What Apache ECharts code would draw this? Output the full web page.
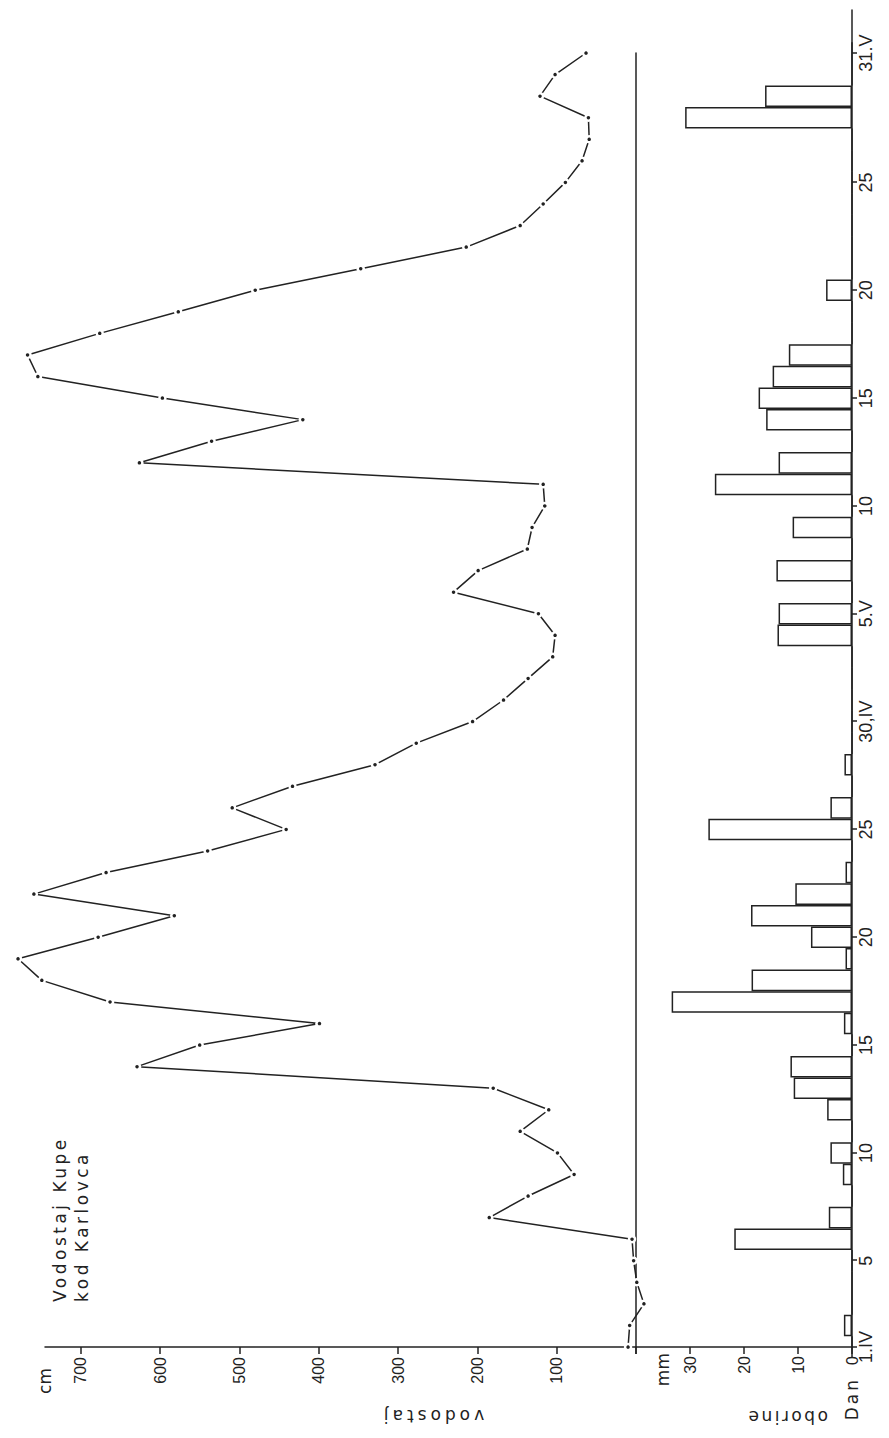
<!DOCTYPE html>
<html>
<head>
<meta charset="utf-8">
<script src="https://cdn.jsdelivr.net/npm/echarts@6/dist/echarts.min.js"></script>
<style>
html,body{margin:0;padding:0;width:889px;height:1438px;overflow:hidden;background:#fff;}
#chart{position:absolute;left:0;top:0;width:1438px;height:889px;transform-origin:0 0;transform:translate(0,1438px) rotate(-90deg);}
</style>
</head>
<body>
<div id="chart"></div>
<script>
// Days (categories)
const days = [
  '1.IV','2.IV','3.IV','4.IV','5.IV','6.IV','7.IV','8.IV','9.IV','10.IV',
  '11.IV','12.IV','13.IV','14.IV','15.IV','16.IV','17.IV','18.IV','19.IV','20.IV',
  '21.IV','22.IV','23.IV','24.IV','25.IV','26.IV','27.IV','28.IV','29.IV','30.IV',
  '1.V','2.V','3.V','4.V','5.V','6.V','7.V','8.V','9.V','10.V',
  '11.V','12.V','13.V','14.V','15.V','16.V','17.V','18.V','19.V','20.V',
  '21.V','22.V','23.V','24.V','25.V','26.V','27.V','28.V','29.V','30.V','31.V'
];
// Water level of the Kupa at Karlovac, cm
const waterLevel = [
  10, 8, -10, -1, 3, 5, 185, 136, 78, 99,
  146, 110, 180, 629, 550, 399, 663, 749, 779, 678,
  582, 759, 668, 540, 441, 509, 433, 329, 277, 206,
  167, 136, 105, 102, 123, 230, 199, 137, 131, 115,
  117, 626, 535, 420, 597, 754, 767, 676, 577, 480,
  347, 214, 146, 117, 89, 68, 59, 60, 121, 102, 63
];
// Precipitation, mm
const precipitation = [
  0, 1.5, 0, 0, 0, 21.8, 4.3, 0, 1.7, 4,
  0, 4.6, 10.8, 11.4, 0, 1.5, 33.4, 18.6, 1.2, 7.6,
  18.7, 10.5, 1.2, 0, 26.6, 4, 0, 1.4, 0, 0,
  0, 0, 0, 13.8, 13.6, 0, 14, 0, 11, 0,
  25.4, 13.6, 0, 15.9, 17.3, 14.7, 11.7, 0, 0, 4.8,
  0, 0, 0, 0, 0, 0, 0, 30.9, 16.1, 0, 0
];
// Tick labels
const dayTickIndex = [0, 4, 9, 14, 19, 24, 29, 34, 39, 44, 49, 54, 60];
const dayTickText = ['1.IV','5','10','15','20','25','30,IV','5.V','10','15','20','25','31.V'];
const levelTicks = [0, 100, 200, 300, 400, 500, 600, 700];
const levelLabels = [100, 200, 300, 400, 500, 600, 700];
const rainTicks = [0, 10, 20, 30, 40];
const rainLabels = [0, 10, 20, 30];

const INK = '#222';
const NUMFONT = 'Liberation Sans';
const NAMEFONT = 'DejaVu Sans';
const isDayTick = (i) => dayTickIndex.indexOf(i) >= 0;
const dayText = (i) => { const k = dayTickIndex.indexOf(i); return k >= 0 ? dayTickText[k] : ''; };

const chart = echarts.init(document.getElementById('chart'), null, {renderer: 'svg'});
const axisLineStyle = {color: INK, width: 1.5};

const option = {
  backgroundColor: '#fff',
  animation: false,
  title: {
    text: 'Vodostaj Kupe\nkod Karlovca',
    left: 131, top: 44,
    textStyle: {fontFamily: NAMEFONT, fontSize: 17, fontWeight: 'normal', color: INK, lineHeight: 22}
  },
  grid: [
    {left: 91, right: 53, top: 45, bottom: 253, outerBoundsMode: 'none'},
    {left: 91, right: 10, top: 636, bottom: 37, outerBoundsMode: 'none'}
  ],
  xAxis: [
    {
      gridIndex: 0, type: 'category', data: days, boundaryGap: false, position: 'bottom',
      axisLine: {show: true, onZero: true, lineStyle: axisLineStyle},
      axisTick: {show: false}, axisLabel: {show: false}, splitLine: {show: false}
    },
    {
      gridIndex: 1, type: 'category', data: days.concat(['', '']), boundaryGap: false, position: 'bottom',
      axisLine: {show: true, lineStyle: axisLineStyle},
      axisTick: {show: true, length: 5, interval: isDayTick, lineStyle: axisLineStyle},
      axisLabel: {interval: isDayTick, formatter: (v, i) => dayText(i), fontFamily: NUMFONT, fontSize: 18, color: INK, margin: 5},
      splitLine: {show: false},
      name: 'Dan', nameLocation: 'start', nameGap: 30, nameMoveOverlap: false,
      nameTextStyle: {fontFamily: NAMEFONT, fontSize: 17, color: INK, align: 'right', verticalAlign: 'middle', padding: [34, 0, 0, 0]}
    }
  ],
  yAxis: [
    {
      gridIndex: 0, type: 'value', position: 'left', min: 0, max: 745, interval: 100,
      axisLine: {show: true, onZero: false, lineStyle: axisLineStyle},
      axisTick: {show: true, length: 7, lineStyle: axisLineStyle, customValues: levelTicks},
      axisLabel: {customValues: levelLabels, formatter: v => (v === 0 || v === 745) ? '' : String(v), fontFamily: NUMFONT, fontSize: 16, color: INK, margin: 10},
      splitLine: {show: false},
      name: 'vodostaj', nameLocation: 'middle', nameGap: 60, nameMoveOverlap: false,
      nameTextStyle: {fontFamily: NAMEFONT, fontSize: 17, color: INK, padding: [0, 183, 0, 0]}
    },
    {
      gridIndex: 0, type: 'value', position: 'left', offset: 0, min: 0, max: 745, interval: 100,
      axisLine: {show: false, onZero: false}, axisTick: {show: false}, axisLabel: {show: false}, splitLine: {show: false},
      name: 'cm', nameLocation: 'end', nameGap: 0, nameMoveOverlap: false,
      nameTextStyle: {fontFamily: NAMEFONT, fontSize: 17, color: INK, align: 'right', verticalAlign: 'middle', padding: [0, 21, 0, 0]}
    },
    {
      gridIndex: 1, type: 'value', position: 'left', min: 0, max: 40, interval: 10,
      axisLine: {show: true, onZero: false, lineStyle: axisLineStyle},
      axisTick: {show: true, length: 7, lineStyle: axisLineStyle, customValues: rainTicks},
      axisLabel: {customValues: rainLabels, formatter: v => v === 40 ? '' : String(v), fontFamily: NUMFONT, fontSize: 16, color: INK, margin: 9},
      splitLine: {show: false},
      name: 'oborine', nameLocation: 'middle', nameGap: 61, nameMoveOverlap: false,
      nameTextStyle: {fontFamily: NAMEFONT, fontSize: 17, color: INK, padding: [0, 86, 0, 0]}
    },
    {
      gridIndex: 1, type: 'value', position: 'left', offset: 0, min: 0, max: 40, interval: 10,
      axisLine: {show: false, onZero: false}, axisTick: {show: false}, axisLabel: {show: false}, splitLine: {show: false},
      name: 'mm', nameLocation: 'end', nameGap: -27, nameMoveOverlap: false,
      nameTextStyle: {fontFamily: NAMEFONT, fontSize: 17, color: INK, align: 'right', verticalAlign: 'middle', padding: [0, 6, 0, 0]}
    }
  ],
  series: [
    {
      name: 'oborine', type: 'bar', xAxisIndex: 1, yAxisIndex: 2,
      data: precipitation, barCategoryGap: '0%', barGap: '0%',
      itemStyle: {color: '#fff', borderColor: INK, borderWidth: 1.5},
      silent: true
    },
    {
      name: 'vodostaj', type: 'line', xAxisIndex: 0, yAxisIndex: 0,
      data: waterLevel, clip: false, z: 5,
      symbol: 'circle', symbolSize: 6, showSymbol: true, showAllSymbol: true,
      itemStyle: {color: INK, borderColor: '#fff', borderWidth: 2.5},
      lineStyle: {color: INK, width: 1.5},
      silent: true
    }
  ]
};
chart.setOption(option);

const SPACED = {'Vodostaj Kupe': 3.5, 'kod Karlovca': 3.5, 'vodostaj': 4, 'oborine': 2.5, 'Dan': 3};
function applySpacing() {
  document.querySelectorAll('#chart text').forEach(t => {
    const s = SPACED[t.textContent.trim()];
    if (s != null) t.style.letterSpacing = s + 'px';
  });
}
chart.on('finished', applySpacing);
applySpacing();
setTimeout(applySpacing, 50);
</script>
</body>
</html>
